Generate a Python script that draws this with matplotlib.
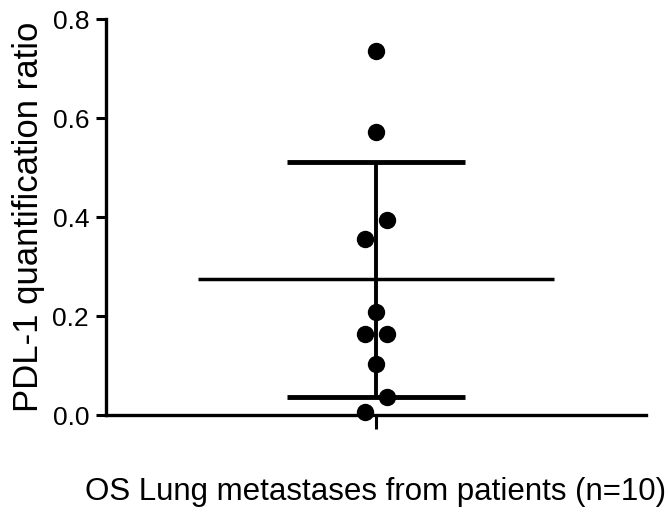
import numpy as np
import matplotlib.pyplot as plt

plt.rcParams["font.family"] = ["Liberation Sans", "DejaVu Sans"]

# PDL-1 quantification ratio, one value per patient
group_label = "OS Lung metastases from patients (n=10)"
pdl1_ratio = [0.736, 0.573, 0.395, 0.355, 0.209, 0.163, 0.163, 0.104, 0.036, 0.007]
y_ticks = [0.0, 0.2, 0.4, 0.6, 0.8]

# horizontal spread of the dots so neighbours don't overlap
spread = [0, 0, 1, -1, 0, -1, 1, 0, 1, -1]

vals = np.array(pdl1_ratio)
mean = vals.mean()
sd = vals.std(ddof=1)

fig = plt.figure(figsize=(6.69, 5.17), dpi=100)
ax = fig.add_axes([0.158, 0.197, 0.808, 0.766])

x = np.array(spread) * 0.042
ax.plot(x, vals, "o", color="black", markersize=11.5, zorder=3, clip_on=False)

# mean line and SD whiskers
ax.hlines(mean, -0.66, 0.66, color="black", linewidth=2.5, zorder=2)
ax.vlines(0, mean - sd, mean + sd, color="black", linewidth=2.8, zorder=2)
ax.hlines([mean - sd, mean + sd], -0.33, 0.33, color="black", linewidth=3.5, zorder=2)

ax.set_xlim(-1, 1)
ax.set_ylim(0, 0.8)
ax.set_yticks(y_ticks)
ax.set_yticklabels([f"{t:.1f}" for t in y_ticks])
ax.set_xticks([0])
ax.set_xticklabels([""])
ax.tick_params(axis="y", length=7, width=2.2, labelsize=19, pad=5)
ax.tick_params(axis="x", length=10, width=2.2)

for side in ("top", "right"):
    ax.spines[side].set_visible(False)
for side in ("left", "bottom"):
    ax.spines[side].set_linewidth(2.4)

ax.set_ylabel("PDL-1 quantification ratio", fontsize=25, labelpad=5)
ax.set_xlabel(group_label, fontsize=22.5, labelpad=31)

fig.savefig("out.png", dpi=100)
